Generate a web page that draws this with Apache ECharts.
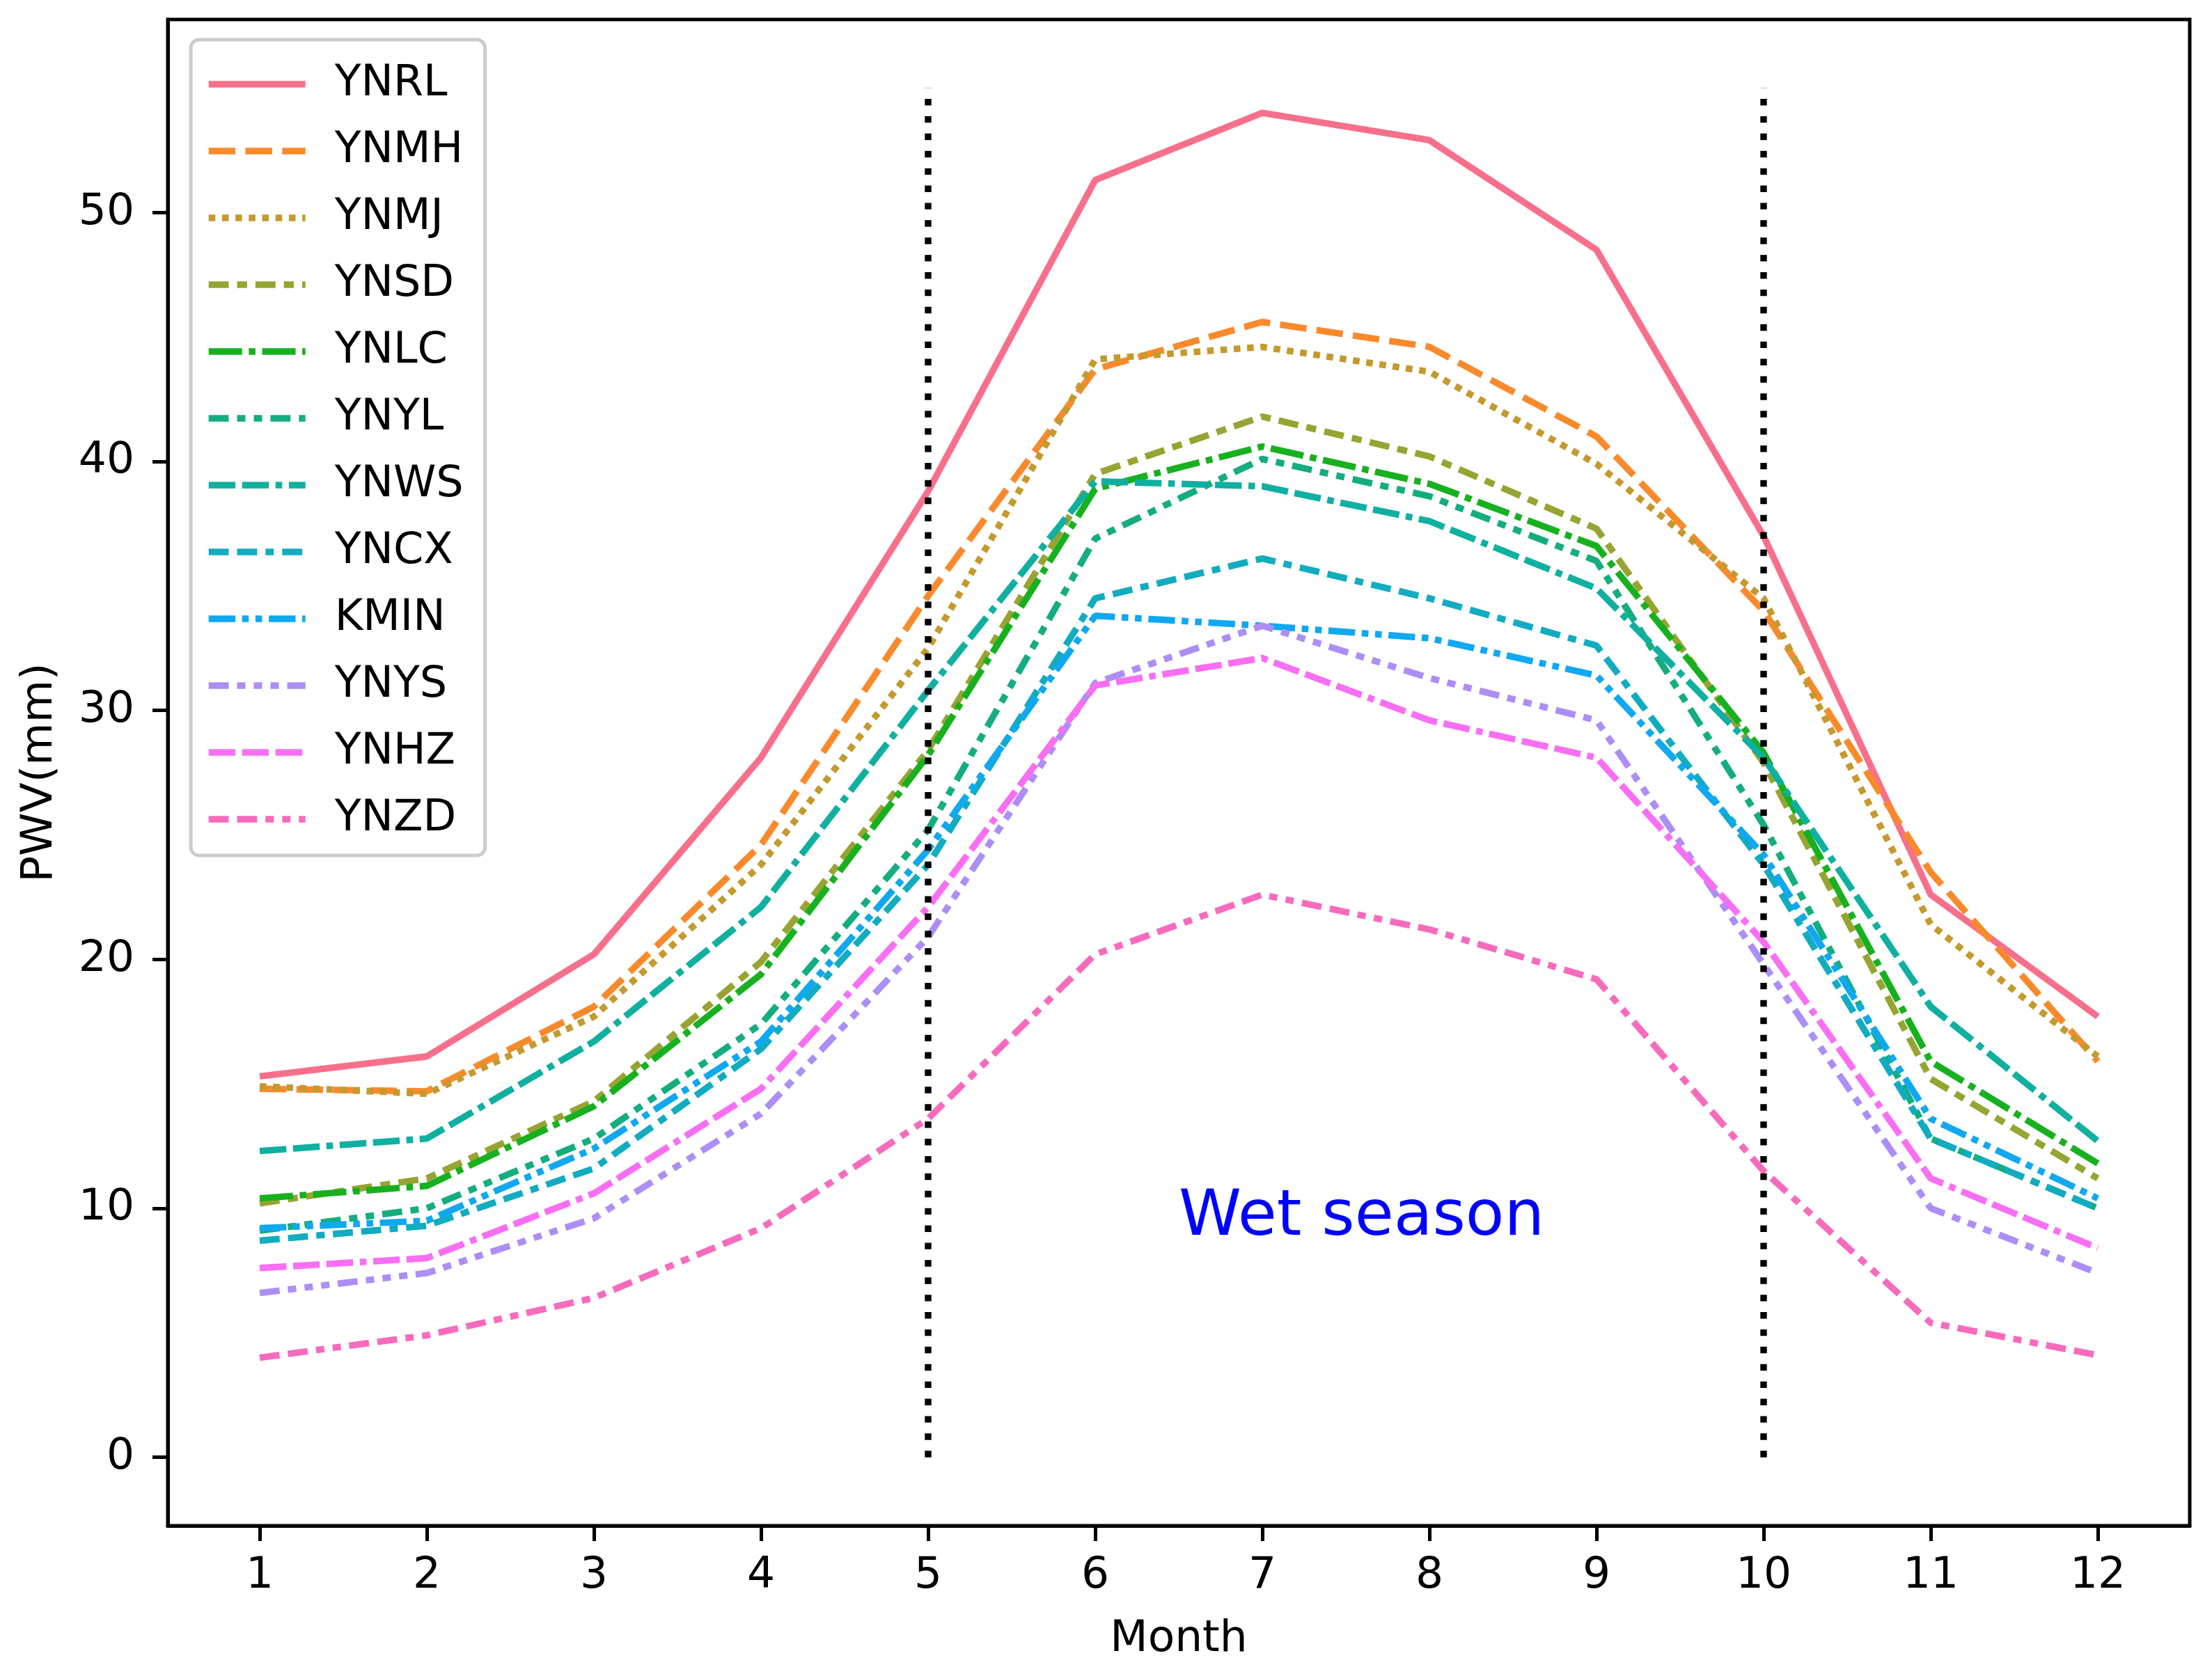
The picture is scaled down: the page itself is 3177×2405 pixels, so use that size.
<!DOCTYPE html>
<html>
<head>
<meta charset="utf-8">
<script src="https://cdn.jsdelivr.net/npm/echarts@6/dist/echarts.min.js"></script>
<style>
  html, body { margin: 0; padding: 0; background: #fff; }
  #chart { width: 3177px; height: 2405px; }
</style>
</head>
<body>
<div id="chart"></div>
<script>
// months on the x axis
const months = [1, 2, 3, 4, 5, 6, 7, 8, 9, 10, 11, 12];
const yTicks = [0, 10, 20, 30, 40, 50];
const stations = ["YNRL", "YNMH", "YNMJ", "YNSD", "YNLC", "YNYL", "YNWS", "YNCX", "KMIN", "YNYS", "YNHZ", "YNZD"];

// monthly mean PWV (mm) per station
const ynrl = [15.3, 16.1, 20.2, 28.1, 38.8, 51.3, 54.0, 52.9, 48.5, 37.0, 22.6, 17.7];
const ynmh = [14.8, 14.7, 18.1, 24.6, 34.6, 43.7, 45.6, 44.6, 41.0, 34.0, 23.5, 15.9];
const ynmj = [14.9, 14.6, 17.7, 23.8, 32.5, 44.1, 44.6, 43.6, 39.9, 34.5, 21.4, 16.1];
const ynsd = [10.2, 11.2, 14.3, 19.9, 28.4, 39.5, 41.8, 40.2, 37.3, 27.9, 15.2, 11.2];
const ynlc = [10.4, 10.9, 14.1, 19.4, 28.2, 38.9, 40.6, 39.1, 36.6, 28.3, 15.9, 11.8];
const ynyl = [9.1, 10.0, 12.8, 17.4, 25.2, 36.9, 40.1, 38.6, 36.0, 25.4, 12.8, 10.0];
const ynws = [12.3, 12.8, 16.7, 22.1, 30.8, 39.2, 39.0, 37.6, 34.9, 28.1, 18.1, 12.7];
const yncx = [8.7, 9.3, 11.6, 16.4, 23.8, 34.5, 36.1, 34.5, 32.6, 23.8, 12.8, 10.0];
const kmin = [9.2, 9.5, 12.4, 16.7, 24.4, 33.8, 33.4, 32.9, 31.4, 24.2, 13.6, 10.4];
const ynys = [6.6, 7.4, 9.6, 13.8, 20.9, 31.1, 33.4, 31.3, 29.6, 19.8, 10.0, 7.4];
const ynhz = [7.6, 8.0, 10.6, 14.8, 22.1, 31.0, 32.1, 29.6, 28.1, 20.7, 11.2, 8.4];
const ynzd = [4.0, 4.9, 6.4, 9.2, 13.6, 20.2, 22.6, 21.2, 19.2, 11.5, 5.4, 4.1];
const values = [ynrl, ynmh, ynmj, ynsd, ynlc, ynyl, ynws, yncx, kmin, ynys, ynhz, ynzd];

// wet season boundaries (dotted vertical lines)
const wetBounds = [5, 10];
const wetRange = [0, 55];

// styles
const colors = ["#f7708b", "#f98a2c", "#c49a2f", "#97a431", "#17b120", "#14ad80",
  "#10b0a0", "#12acc0", "#10a8f0", "#ac8ef6", "#f86ff3", "#f76bbd"];
const U = 9.6; // dash unit (px)
const dashUnits = [
  null,
  [4, 1.5],
  [1, 1],
  [3, 1.25, 1.5, 1.25],
  [5, 1, 1, 1],
  [3, 1.25, 1.25, 1.25, 1.25, 1.25],
  [4, 1, 4, 1, 1, 1],
  [3, 1.25, 3, 1.25, 1.25, 1.25],
  [4, 1, 1, 1, 1, 1],
  [3, 1.25, 1.25, 1.25, 1.25, 1.25, 1.25, 1.25],
  [4, 1, 4, 1, 4, 1, 1, 1],
  [3, 1.25, 3, 1.25, 1.25, 1.25, 1.25, 1.25]
];
const LW = 9.4;
const FONT = "DejaVu Sans";

let charts = echarts.init(document.getElementById("chart"), null, { renderer: "canvas" });

let series = stations.map((name, i) => ({
  name: name,
  type: "line",
  data: months.map((m, k) => [m, values[i][k]]),
  symbol: "none",
  animation: false,
  lineStyle: {
    color: colors[i],
    width: LW,
    type: dashUnits[i] ? dashUnits[i].map(v => v * U) : "solid",
    cap: "butt"
  },
  itemStyle: { color: colors[i] },
  emphasis: { disabled: true }
}));

wetBounds.forEach(x => {
  series.push({
    name: "wet" + x,
    type: "line",
    data: wetRange.map(y => [x, y]),
    symbol: "none",
    animation: false,
    silent: true,
    z: 5,
    lineStyle: { color: "#000", width: LW, type: [LW, 15.5], cap: "butt" }
  });
});

const axisLineStyle = { color: "#000", width: 5 };

var option = {
  backgroundColor: "#fff",
  animation: false,
  textStyle: { fontFamily: FONT },
  grid: {
    left: 241,
    right: 32,
    top: 28,
    bottom: 213,
    containLabel: false,
    outerBoundsMode: "none",
    show: true,
    borderColor: "#000",
    borderWidth: 5
  },
  legend: {
    data: stations,
    orient: "vertical",
    left: 274,
    top: 57,
    padding: [28, 31, 16, 21],
    itemWidth: 139,
    itemHeight: 20,
    itemGap: 24,
    backgroundColor: "rgba(255,255,255,0.8)",
    borderColor: "#cccccc",
    borderWidth: 5,
    borderRadius: 12,
    itemStyle: { opacity: 0, borderWidth: 0 },
    lineStyle: { width: LW },
    textStyle: {
      fontFamily: FONT,
      fontSize: 62,
      lineHeight: 72,
      color: "#000",
      padding: [0, 0, 0, 37]
    }
  },
  xAxis: {
    type: "value",
    min: 0.45,
    max: 12.55,
    name: "Month",
    nameLocation: "middle",
    nameGap: 132,
    nameTextStyle: { fontFamily: FONT, fontSize: 63, color: "#000" },
    axisLine: { show: true, onZero: false, lineStyle: axisLineStyle },
    axisTick: { show: true, inside: false, length: 22, lineStyle: axisLineStyle, customValues: months },
    axisLabel: { fontFamily: FONT, fontSize: 63, color: "#000", margin: 41, customValues: months },
    splitLine: { show: false }
  },
  yAxis: {
    type: "value",
    min: -2.75,
    max: 57.75,
    name: "PWV(mm)",
    nameLocation: "middle",
    nameGap: 152,
    nameRotate: 90,
    nameTextStyle: { fontFamily: FONT, fontSize: 63, color: "#000" },
    axisLine: { show: true, onZero: false, lineStyle: axisLineStyle },
    axisTick: { show: true, inside: false, length: 22, lineStyle: axisLineStyle, customValues: yTicks },
    axisLabel: { fontFamily: FONT, fontSize: 63, color: "#000", margin: 48, customValues: yTicks },
    splitLine: { show: false }
  },
  series: series
};
charts.setOption(option);

// "Wet season" annotation anchored in data coordinates
let p = charts.convertToPixel({ xAxisIndex: 0, yAxisIndex: 0 }, [6.5, 9.6]);
charts.setOption({
  graphic: [{
    type: "text",
    x: p[0],
    y: p[1],
    z: 10,
    style: {
      text: "Wet season",
      fontFamily: FONT,
      fontSize: 91,
      fill: "#0000ff",
      align: "left",
      verticalAlign: "middle"
    }
  }]
});
</script>
</body>
</html>
